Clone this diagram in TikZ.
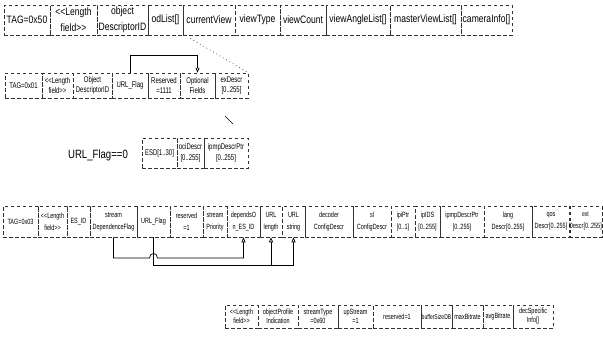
\documentclass[tikz,border=0pt]{standalone}
\usepackage{fontspec}
\newfontfamily\nf{Liberation Sans}[FakeStretch=0.8]
\newfontfamily\nfn{Liberation Sans}[FakeStretch=0.72]
\usetikzlibrary{arrows.meta,calc}
\tikzset{
  fld/.style={draw=black!80, dash pattern=on 3.5pt off 2.5pt, line width=0.5pt,
    inner xsep=0pt, inner ysep=0pt, align=center, text=black},
  rowa/.style={fld, font=\nf\fontsize{10.7}{16}\selectfont},
  rowb/.style={fld, font=\nfn\fontsize{8.3}{10}\selectfont},
  rowc/.style={fld, font=\nfn\fontsize{8.3}{11}\selectfont},
  rowd/.style={fld, font=\nfn\fontsize{7.6}{12}\selectfont},
  rowe/.style={fld, font=\nfn\fontsize{7.6}{9}\selectfont},
  conn/.style={draw=black, line width=0.7pt},
  tip/.style={-{Triangle[open,length=5pt,width=4pt]}},
  dotline/.style={draw=black!80, line width=0.6pt, dash pattern=on 0.8pt off 3pt},
}
\newcommand\fldbox[7]{%
  \node[#1, minimum width={(#4-#3)*1pt}, minimum height={(#6-#5)*1pt}] (#2)
    at ({(#3+#4)/2},{(#5+#6)/2}) {#7};}
\begin{document}
\begin{tikzpicture}[x=1pt,y=-1pt]
\fill[white] (0,0) rectangle (603,338);
\useasboundingbox (0,0) rectangle (603,338);

% Row 1
\fldbox{rowa}{r1a}{4}{50}{5}{35}{TAG=0x50}
\fldbox{rowa}{r1b}{50}{97}{5}{35}{<<Length\\field>>}
\fldbox{rowa}{r1c}{97}{148}{5}{35}{object\\DescriptorID}
\fldbox{rowa}{r1d}{148}{183}{5}{35}{odList[]}
\fldbox{rowa}{r1e}{183}{235}{5}{35}{currentView}
\fldbox{rowa}{r1f}{235}{280}{5}{35}{viewType}
\fldbox{rowa}{r1g}{280}{326}{5}{35}{viewCount}
\fldbox{rowa}{r1h}{326}{390}{5}{35}{viewAngleList[]}
\fldbox{rowa}{r1i}{390}{461}{5}{35}{masterViewList[]}
\fldbox{rowa}{r1j}{461}{512}{5}{35}{cameraInfo[]}

% Row 2
\fldbox{rowb}{r2a}{5}{42}{73}{98}{TAG=0x01}
\fldbox{rowb}{r2b}{42}{73}{73}{98}{<<Length\\field>>}
\fldbox{rowb}{r2c}{73}{112}{73}{98}{Object\\DescriptorID}
\fldbox{rowb}{r2d}{112}{148}{73}{98}{URL\_Flag}
\fldbox{rowb}{r2e}{148}{180}{73}{98}{Reserved\\=1111}
\fldbox{rowb}{r2f}{180}{215}{73}{98}{Optional\\Fields}
\fldbox{rowb}{r2g}{215}{248}{73}{98}{exDescr\\{}[0..255]}

% Row 3
\node[font=\nf\fontsize{12}{14}\selectfont] (lbl) at (98,155) {URL\_Flag==0};
\fldbox{rowc}{r3a}{142}{177}{138}{168}{ESD[1..30]}
\fldbox{rowc}{r3b}{177}{204}{138}{168}{ociDescr\\{}[0..255]}
\fldbox{rowc}{r3c}{204}{248}{138}{168}{ipmpDescrPtr\\{}[0..255]}

% Row 4
\fldbox{rowd}{r4a}{3}{38}{206}{237}{TAG=0x03}
\fldbox{rowd}{r4b}{38}{67}{206}{237}{<<Length\\field>>}
\fldbox{rowd}{r4c}{67}{90}{206}{237}{ES\_ID}
\fldbox{rowd}{r4d}{90}{137}{206}{237}{stream\\DependenceFlag}
\fldbox{rowd}{r4e}{137}{170}{206}{237}{URL\_Flag}
\fldbox{rowd}{r4f}{170}{203}{206}{237}{reserved\\=1}
\fldbox{rowd}{r4g}{203}{227}{206}{237}{stream\\Priority}
\fldbox{rowd}{r4h}{227}{260}{206}{237}{dependsO\\n\_ES\_ID}
\fldbox{rowd}{r4i}{260}{282}{206}{237}{URL\\length}
\fldbox{rowd}{r4j}{282}{305}{206}{237}{URL\\string}
\fldbox{rowd}{r4k}{305}{353}{206}{237}{decoder\\ConfigDescr}
\fldbox{rowd}{r4l}{353}{391}{206}{237}{sl\\ConfigDescr}
\fldbox{rowd}{r4m}{391}{415}{206}{237}{ipiPtr\\{}[0..1]}
\fldbox{rowd}{r4n}{415}{440}{206}{237}{ipIDS\\{}[0..255]}
\fldbox{rowd}{r4o}{440}{484}{206}{237}{ipmpDescrPtr\\{}[0..255]}
\fldbox{rowd}{r4p}{484}{532}{206}{237}{lang\\Descr[0..255]}
\fldbox{rowd}{r4q}{532}{570}{206}{237}{qos\\Descr[0..255]}
\fldbox{rowd}{r4r}{570}{601}{206}{237}{\fontsize{7}{12}\selectfont ext\\Descr[0..255]}

% Row 5
\fldbox{rowe}{r5a}{225}{258}{305}{328}{<<Length\\field>>}
\fldbox{rowe}{r5b}{258}{298}{305}{328}{objectProfile\\Indication}
\fldbox{rowe}{r5c}{298}{338}{305}{328}{streamType\\=0x60}
\fldbox{rowe}{r5d}{338}{373}{305}{328}{upStream\\=1}
\fldbox{rowe}{r5e}{373}{421}{305}{328}{reserved=1}
\fldbox{rowe}{r5f}{421}{452}{305}{328}{\fontsize{7}{9}\selectfont bufferSizeDB}
\fldbox{rowe}{r5g}{452}{483}{305}{328}{maxBitrate}
\fldbox{rowe}{r5h}{483}{513}{305}{328}{avgBitrate}
\fldbox{rowe}{r5i}{513}{553}{305}{328}{decSpecific\\Info[]}

% connectors
\draw[dotline] ([shift={(7,3)}]r1d.south east) -- (r2g.north east);
\draw[conn,tip] (r2d.north) -- ++(0,-17) -| (r2f.north);
\draw[conn] (225,116) -- (233,124);

\draw[conn,tip] (r4d.south) -- (r4d.south |- 0,258)
  -- ($(r4e.south |- 0,258)+(-4,0)$)
  .. controls ($(r4e.south |- 0,258)+(-4,-6)$) and ($(r4e.south |- 0,258)+(4,-6)$) ..
  ($(r4e.south |- 0,258)+(4,0)$) -| (r4h.south);
\draw[conn,tip] (r4e.south) -- (r4e.south |- 0,265) -| (r4j.south);
\draw[conn,tip] (r4i.south |- 0,265) -- (r4i.south);
\end{tikzpicture}
\end{document}
